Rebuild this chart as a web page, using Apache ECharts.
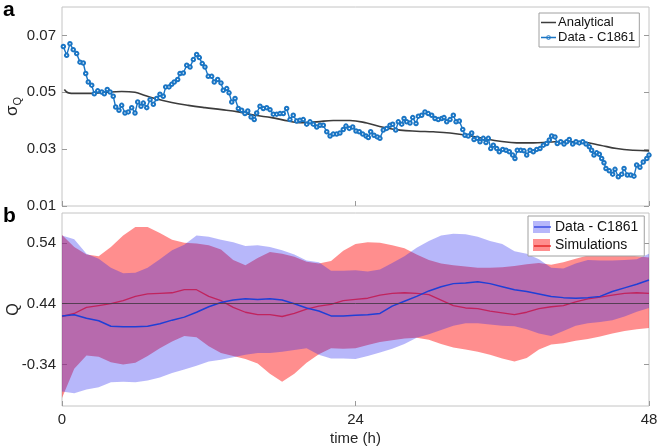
<!DOCTYPE html>
<html>
<head>
<meta charset="utf-8">
<script src="https://cdn.jsdelivr.net/npm/echarts@6/dist/echarts.min.js"></script>
<style>html,body{margin:0;padding:0;background:#fff;}#c{width:660px;height:447px;}</style>
</head>
<body>
<div id="c"></div>
<script>
// ---------- Panel a: sigma_Q ----------
const c1861Time = [0.11,0.38,0.65,0.92,1.20,1.47,1.74,1.94,2.15,2.43,2.64,2.92,3.25,3.46,3.70,3.93,4.19,4.39,4.66,4.88,5.15,5.42,5.70,5.97,6.19,6.46,6.65,6.93,7.20,7.47,7.74,8.01,8.28,8.48,8.75,8.97,9.18,9.46,9.65,9.92,10.20,10.47,10.74,11.01,11.23,11.47,11.69,11.96,12.24,12.45,12.73,13.00,13.19,13.47,13.66,13.88,14.15,14.42,14.69,14.96,15.19,15.46,15.72,15.92,16.19,16.46,16.74,17.01,17.28,17.56,17.83,18.10,18.37,18.64,18.91,19.19,19.46,19.73,20.01,20.28,20.55,20.83,21.10,21.37,21.65,21.92,22.18,22.46,22.73,23.00,23.22,23.49,23.77,24.04,24.31,24.59,24.86,25.05,25.24,25.51,25.78,26.00,26.27,26.55,26.82,27.04,27.29,27.50,27.78,27.97,28.19,28.46,28.68,28.95,29.14,29.41,29.68,29.95,30.23,30.50,30.77,31.05,31.24,31.46,31.73,32.00,32.22,32.49,32.77,32.95,33.22,33.50,33.69,33.96,34.18,34.45,34.67,34.86,35.06,35.27,35.55,35.76,36.04,36.31,36.58,36.85,37.04,37.23,37.51,37.78,38.00,38.27,38.54,38.82,39.09,39.36,39.64,39.85,40.04,40.31,40.50,40.78,41.05,41.27,41.48,41.76,42.03,42.30,42.58,42.85,43.12,43.31,43.50,43.72,43.94,44.13,44.32,44.48,44.75,45.03,45.22,45.49,45.77,45.96,46.23,46.50,46.77,46.99,47.26,47.53,47.82,48.00];
const c1861Sigma = [0.0661,0.0630,0.0671,0.0650,0.0636,0.0606,0.0603,0.0566,0.0536,0.0525,0.0495,0.0505,0.0501,0.0495,0.0510,0.0501,0.0486,0.0448,0.0437,0.0454,0.0427,0.0431,0.0446,0.0427,0.0466,0.0451,0.0462,0.0446,0.0474,0.0458,0.0478,0.0493,0.0486,0.0519,0.0519,0.0528,0.0536,0.0545,0.0566,0.0568,0.0595,0.0589,0.0615,0.0633,0.0622,0.0601,0.0589,0.0556,0.0556,0.0536,0.0545,0.0533,0.0507,0.0513,0.0498,0.0466,0.0478,0.0443,0.0437,0.0425,0.0434,0.0413,0.0404,0.0427,0.0451,0.0443,0.0446,0.0439,0.0423,0.0423,0.0425,0.0425,0.0443,0.0404,0.0419,0.0399,0.0402,0.0404,0.0388,0.0396,0.0388,0.0378,0.0384,0.0384,0.0361,0.0346,0.0353,0.0353,0.0357,0.0369,0.0381,0.0373,0.0378,0.0364,0.0361,0.0353,0.0346,0.0341,0.0361,0.0349,0.0343,0.0338,0.0367,0.0373,0.0384,0.0388,0.0367,0.0396,0.0388,0.0408,0.0396,0.0392,0.0411,0.0390,0.0416,0.0419,0.0431,0.0425,0.0419,0.0408,0.0404,0.0408,0.0411,0.0396,0.0404,0.0419,0.0396,0.0399,0.0369,0.0349,0.0346,0.0357,0.0334,0.0338,0.0326,0.0338,0.0323,0.0338,0.0302,0.0314,0.0302,0.0291,0.0299,0.0296,0.0291,0.0279,0.0267,0.0296,0.0296,0.0294,0.0279,0.0296,0.0291,0.0299,0.0302,0.0314,0.0320,0.0332,0.0346,0.0343,0.0320,0.0326,0.0318,0.0326,0.0334,0.0318,0.0326,0.0322,0.0326,0.0318,0.0308,0.0296,0.0279,0.0287,0.0282,0.0267,0.0252,0.0232,0.0224,0.0212,0.0229,0.0203,0.0212,0.0232,0.0209,0.0209,0.0205,0.0244,0.0236,0.0255,0.0267,0.0279];
const analyticalTime = [0.19,0.52,1.06,2.15,3.52,4.88,5.97,6.79,7.60,8.97,10.33,11.69,13.06,14.42,15.78,17.15,18.51,19.46,20.83,22.18,23.55,24.92,26.27,27.64,29.00,30.36,31.73,33.09,34.45,35.82,37.18,38.54,39.90,41.27,42.63,44.00,45.36,46.72,48.00];
const analyticalSigma = [0.0510,0.0498,0.0496,0.0496,0.0500,0.0503,0.0500,0.0489,0.0478,0.0464,0.0454,0.0446,0.0439,0.0431,0.0419,0.0411,0.0399,0.0393,0.0396,0.0401,0.0401,0.0392,0.0377,0.0367,0.0363,0.0361,0.0357,0.0349,0.0338,0.0328,0.0322,0.0322,0.0325,0.0327,0.0325,0.0314,0.0302,0.0296,0.0294];
const sigmaTicks = [0.01, 0.03, 0.05, 0.07];

// ---------- Panel b: Q ----------
const hours = ['0','1','2','3','4','5','6','7','8','9','10','11','12','13','14','15','16','17','18','19','20','21','22','23','24','25','26','27','28','29','30','31','32','33','34','35','36','37','38','39','40','41','42','43','44','45','46','47','48'];
const dataUpper = [0.552,0.546,0.522,0.514,0.499,0.490,0.491,0.499,0.513,0.528,0.537,0.552,0.550,0.545,0.541,0.535,0.536,0.533,0.528,0.521,0.511,0.508,0.494,0.494,0.495,0.493,0.496,0.507,0.518,0.532,0.543,0.552,0.555,0.554,0.550,0.543,0.538,0.526,0.522,0.513,0.499,0.498,0.506,0.512,0.511,0.511,0.512,0.513,0.522];
const dataLower = [0.296,0.293,0.299,0.303,0.311,0.312,0.311,0.314,0.319,0.326,0.332,0.338,0.345,0.348,0.352,0.356,0.359,0.359,0.361,0.364,0.367,0.356,0.350,0.350,0.349,0.354,0.360,0.366,0.374,0.384,0.390,0.397,0.404,0.408,0.408,0.406,0.404,0.403,0.398,0.391,0.387,0.395,0.404,0.408,0.410,0.413,0.419,0.427,0.433];
const dataMean = [0.420,0.422,0.416,0.412,0.403,0.402,0.402,0.403,0.407,0.413,0.418,0.426,0.435,0.442,0.446,0.448,0.447,0.448,0.446,0.440,0.433,0.428,0.420,0.420,0.421,0.422,0.424,0.436,0.444,0.452,0.461,0.468,0.473,0.474,0.476,0.473,0.468,0.463,0.460,0.456,0.452,0.450,0.449,0.450,0.452,0.460,0.466,0.472,0.479];
const simUpper = [0.553,0.533,0.521,0.518,0.533,0.552,0.566,0.566,0.556,0.545,0.540,0.539,0.536,0.529,0.512,0.503,0.515,0.525,0.522,0.517,0.509,0.506,0.510,0.527,0.538,0.541,0.540,0.536,0.531,0.521,0.512,0.506,0.503,0.501,0.499,0.499,0.500,0.502,0.505,0.507,0.504,0.508,0.514,0.519,0.523,0.522,0.520,0.518,0.516];
const simLower = [0.285,0.333,0.355,0.353,0.344,0.340,0.343,0.354,0.367,0.378,0.387,0.385,0.370,0.359,0.354,0.349,0.342,0.325,0.312,0.325,0.343,0.357,0.367,0.366,0.367,0.372,0.377,0.380,0.383,0.384,0.381,0.374,0.368,0.365,0.361,0.356,0.350,0.345,0.351,0.365,0.373,0.375,0.379,0.382,0.386,0.391,0.395,0.398,0.400];
const simMean = [0.419,0.424,0.434,0.437,0.440,0.445,0.452,0.456,0.457,0.458,0.463,0.463,0.452,0.445,0.434,0.426,0.422,0.422,0.419,0.424,0.431,0.436,0.439,0.445,0.447,0.449,0.454,0.457,0.458,0.457,0.455,0.446,0.437,0.433,0.432,0.428,0.425,0.422,0.426,0.432,0.435,0.437,0.443,0.448,0.451,0.454,0.457,0.458,0.457];
const qTicks = [0.34, 0.44, 0.54];
const qTickLabels = ['-0.34', '0.44', '0.54'];
const timeTickHours = ['0', '24', '48'];
const qReference = 0.44;

// ---------- build ----------
const FONT = 'Liberation Sans, Arial, Helvetica, sans-serif';
const zip = (xs, ys) => xs.map((x, i) => [x, ys[i]]);
const BLUE_FILL = 'rgba(30,30,240,0.32)';
const RED_FILL = 'rgba(255,30,30,0.5)';
const TICK_COLOR = '#9a9a9a';
const LABEL_COLOR = '#262626';
const isTimeTick = (i, v) => timeTickHours.indexOf(String(v)) >= 0;

const ICON_LINE = 'path://M0,0h0.01v0.01h-0.01zM0,5.3h15v1.4h-15zM14.99,11.99h0.01v0.01h-0.01z';
const ICON_LINE_MARK = 'path://M0,0h0.01v0.01h-0.01zM0,5.3h15v1.4h-15zM14.99,11.99h0.01v0.01h-0.01z' +
  'M9.8,6A2.3,2.3,0,1,1,5.2,6A2.3,2.3,0,1,1,9.8,6zM8.9,6A1.4,1.4,0,1,0,6.1,6A1.4,1.4,0,1,0,8.9,6z';

function yAxesFor(gridIndex, min, max, ticks, labelFn, nameCfg) {
  const left = Object.assign({
    type: 'value', gridIndex, min, max, position: 'left',
    axisLine: { show: false },
    splitLine: { show: false },
    axisTick: { show: true, inside: true, length: 5, customValues: ticks, lineStyle: { color: TICK_COLOR } },
    axisLabel: { show: true, customValues: ticks, formatter: labelFn, color: LABEL_COLOR, fontSize: 15, fontFamily: FONT, margin: 6 }
  }, nameCfg || {});
  const right = {
    type: 'value', gridIndex, min, max, position: 'right',
    axisLine: { show: false },
    splitLine: { show: false },
    axisTick: { show: true, inside: true, length: 5, customValues: ticks, lineStyle: { color: TICK_COLOR } },
    axisLabel: { show: false }
  };
  return [left, right];
}

const option = {
  animation: false,
  backgroundColor: '#ffffff',
  textStyle: { fontFamily: FONT },
  grid: [
    { left: 62, top: 7, width: 587, height: 199, show: true, borderColor: '#c4c4c4', borderWidth: 1, backgroundColor: '#fff', containLabel: false, outerBoundsMode: 'none' },
    { left: 62, top: 213, width: 587, height: 193, show: true, borderColor: '#c4c4c4', borderWidth: 1, backgroundColor: '#fff', containLabel: false, outerBoundsMode: 'none' }
  ],
  xAxis: [
    { type: 'value', gridIndex: 0, min: 0, max: 48, interval: 24,
      axisLine: { show: false }, splitLine: { show: false },
      axisTick: { show: true, inside: true, length: 5, lineStyle: { color: TICK_COLOR } },
      axisLabel: { show: false } },
    { type: 'category', gridIndex: 1, data: hours, boundaryGap: false,
      axisLine: { show: false }, splitLine: { show: false },
      axisTick: { show: true, inside: true, length: 5, interval: isTimeTick, lineStyle: { color: TICK_COLOR } },
      axisLabel: { show: true, interval: isTimeTick, color: LABEL_COLOR, fontSize: 15, fontFamily: FONT, margin: 6 },
      name: 'time (h)', nameLocation: 'middle', nameGap: 25, nameMoveOverlap: false,
      nameTextStyle: { color: LABEL_COLOR, fontSize: 15, fontFamily: FONT } }
  ],
  yAxis: [].concat(
    yAxesFor(0, 0.01, 0.08, sigmaTicks, v => v.toFixed(2), {
      name: '{s|σ}{q|Q}', nameLocation: 'middle', nameRotate: 90, nameGap: 39, nameMoveOverlap: false,
      nameTextStyle: { color: LABEL_COLOR, fontFamily: FONT,
        rich: { s: { fontSize: 17, fontFamily: FONT, color: LABEL_COLOR, lineHeight: 22 },
                q: { fontSize: 11, fontFamily: FONT, color: LABEL_COLOR, verticalAlign: 'bottom', lineHeight: 12, padding: [8, 0, 0, 0] } } }
    }),
    yAxesFor(1, 0.272, 0.589, qTicks, v => {
      const i = qTicks.findIndex(t => Math.abs(t - v) < 1e-6);
      return i >= 0 ? qTickLabels[i] : '';
    }, {
      name: 'Q', nameLocation: 'middle', nameRotate: 90, nameGap: 40, nameMoveOverlap: false,
      nameTextStyle: { color: LABEL_COLOR, fontSize: 16, fontFamily: FONT }
    })
  ),
  legend: [
    { show: true, orient: 'vertical', left: 539, top: 13,
      data: [
        { name: 'Analytical', icon: ICON_LINE, itemStyle: { color: '#3c3c3c', borderWidth: 0 } },
        { name: 'Data - C1861', icon: ICON_LINE_MARK, itemStyle: { color: '#1a75c4', borderWidth: 0 } }
      ],
      itemWidth: 15, itemHeight: 12, itemGap: 2,
      padding: [3, 4, 3, 2],
      borderColor: '#a0a0a0', borderWidth: 1, backgroundColor: '#fff',
      textStyle: { fontSize: 13, color: '#111', fontFamily: FONT, padding: [0, 0, 0, -3] },
      selectedMode: false },
    { show: true, orient: 'vertical', left: 528, top: 216,
      data: [
        { name: 'Data - C1861 (b)', icon: 'rect', itemStyle: { color: BLUE_FILL, borderWidth: 0 } },
        { name: 'Simulations', icon: 'rect', itemStyle: { color: RED_FILL, borderWidth: 0 } }
      ],
      formatter: n => n.replace(' (b)', ''),
      itemWidth: 17, itemHeight: 12, itemGap: 4,
      padding: [4, 6, 4, 5],
      borderColor: '#a0a0a0', borderWidth: 1, backgroundColor: '#fff',
      textStyle: { fontSize: 14, color: '#111', fontFamily: FONT },
      selectedMode: false }
  ],
  graphic: [
    { type: 'text', left: 3, top: 0, style: { text: 'a', fontSize: 21, fontWeight: 'bold', fill: '#000', fontFamily: FONT } },
    { type: 'text', left: 3, top: 206, style: { text: 'b', fontSize: 21, fontWeight: 'bold', fill: '#000', fontFamily: FONT } },
    { type: 'line', id: 'legLineBlue', shape: { x1: 534, y1: 227, x2: 551, y2: 227 }, style: { stroke: '#1f36e0', lineWidth: 1.2 }, z: 200 },
    { type: 'line', id: 'legLineRed', shape: { x1: 534, y1: 246, x2: 551, y2: 246 }, style: { stroke: '#e01010', lineWidth: 1.2 }, z: 200 }
  ],
  series: [
    { name: 'Analytical', type: 'line', xAxisIndex: 0, yAxisIndex: 0,
      data: zip(analyticalTime, analyticalSigma), smooth: 0.4, symbol: 'none',
      lineStyle: { color: '#3c3c3c', width: 1.6 }, itemStyle: { color: '#3c3c3c' }, z: 3 },
    { name: 'Data - C1861', type: 'line', xAxisIndex: 0, yAxisIndex: 0,
      data: zip(c1861Time, c1861Sigma), symbol: 'emptyCircle', symbolSize: 3.5, showSymbol: true,
      lineStyle: { color: '#1a75c4', width: 1.4 }, itemStyle: { color: '#1a75c4', borderWidth: 1 }, z: 4 },

    { name: 'simBase', type: 'line', xAxisIndex: 1, yAxisIndex: 2, stack: 'sim',
      data: simLower, symbol: 'none', lineStyle: { opacity: 0 }, silent: true, z: 1 },
    { name: 'Simulations', type: 'line', xAxisIndex: 1, yAxisIndex: 2, stack: 'sim',
      data: simUpper.map((u, i) => +(u - simLower[i]).toFixed(4)), symbol: 'none',
      lineStyle: { opacity: 0, width: 0 }, itemStyle: { color: RED_FILL },
      areaStyle: { color: RED_FILL, opacity: 1 }, silent: true, z: 1 },
    { name: 'dataBase', type: 'line', xAxisIndex: 1, yAxisIndex: 2, stack: 'dat',
      data: dataLower, symbol: 'none', lineStyle: { opacity: 0 }, silent: true, z: 2 },
    { name: 'Data - C1861 (b)', type: 'line', xAxisIndex: 1, yAxisIndex: 2, stack: 'dat',
      data: dataUpper.map((u, i) => +(u - dataLower[i]).toFixed(4)), symbol: 'none',
      lineStyle: { opacity: 0, width: 0 }, itemStyle: { color: BLUE_FILL },
      areaStyle: { color: BLUE_FILL, opacity: 1 }, silent: true, z: 2 },
    { name: 'Sim mean', type: 'line', xAxisIndex: 1, yAxisIndex: 2,
      data: simMean, symbol: 'none',
      lineStyle: { color: '#c0245e', width: 1.3 }, z: 3 },
    { name: 'Data mean', type: 'line', xAxisIndex: 1, yAxisIndex: 2,
      data: dataMean, symbol: 'none',
      lineStyle: { color: '#1f3fd6', width: 1.5 }, z: 4,
      markLine: { silent: true, symbol: 'none', label: { show: false },
        lineStyle: { color: '#4a3a48', width: 0.9, type: 'solid' },
        data: [{ yAxis: qReference }] } }
  ]
};

const chart = echarts.init(document.getElementById('c'), null, { renderer: 'canvas' });
chart.setOption(option);
</script>
</body>
</html>
